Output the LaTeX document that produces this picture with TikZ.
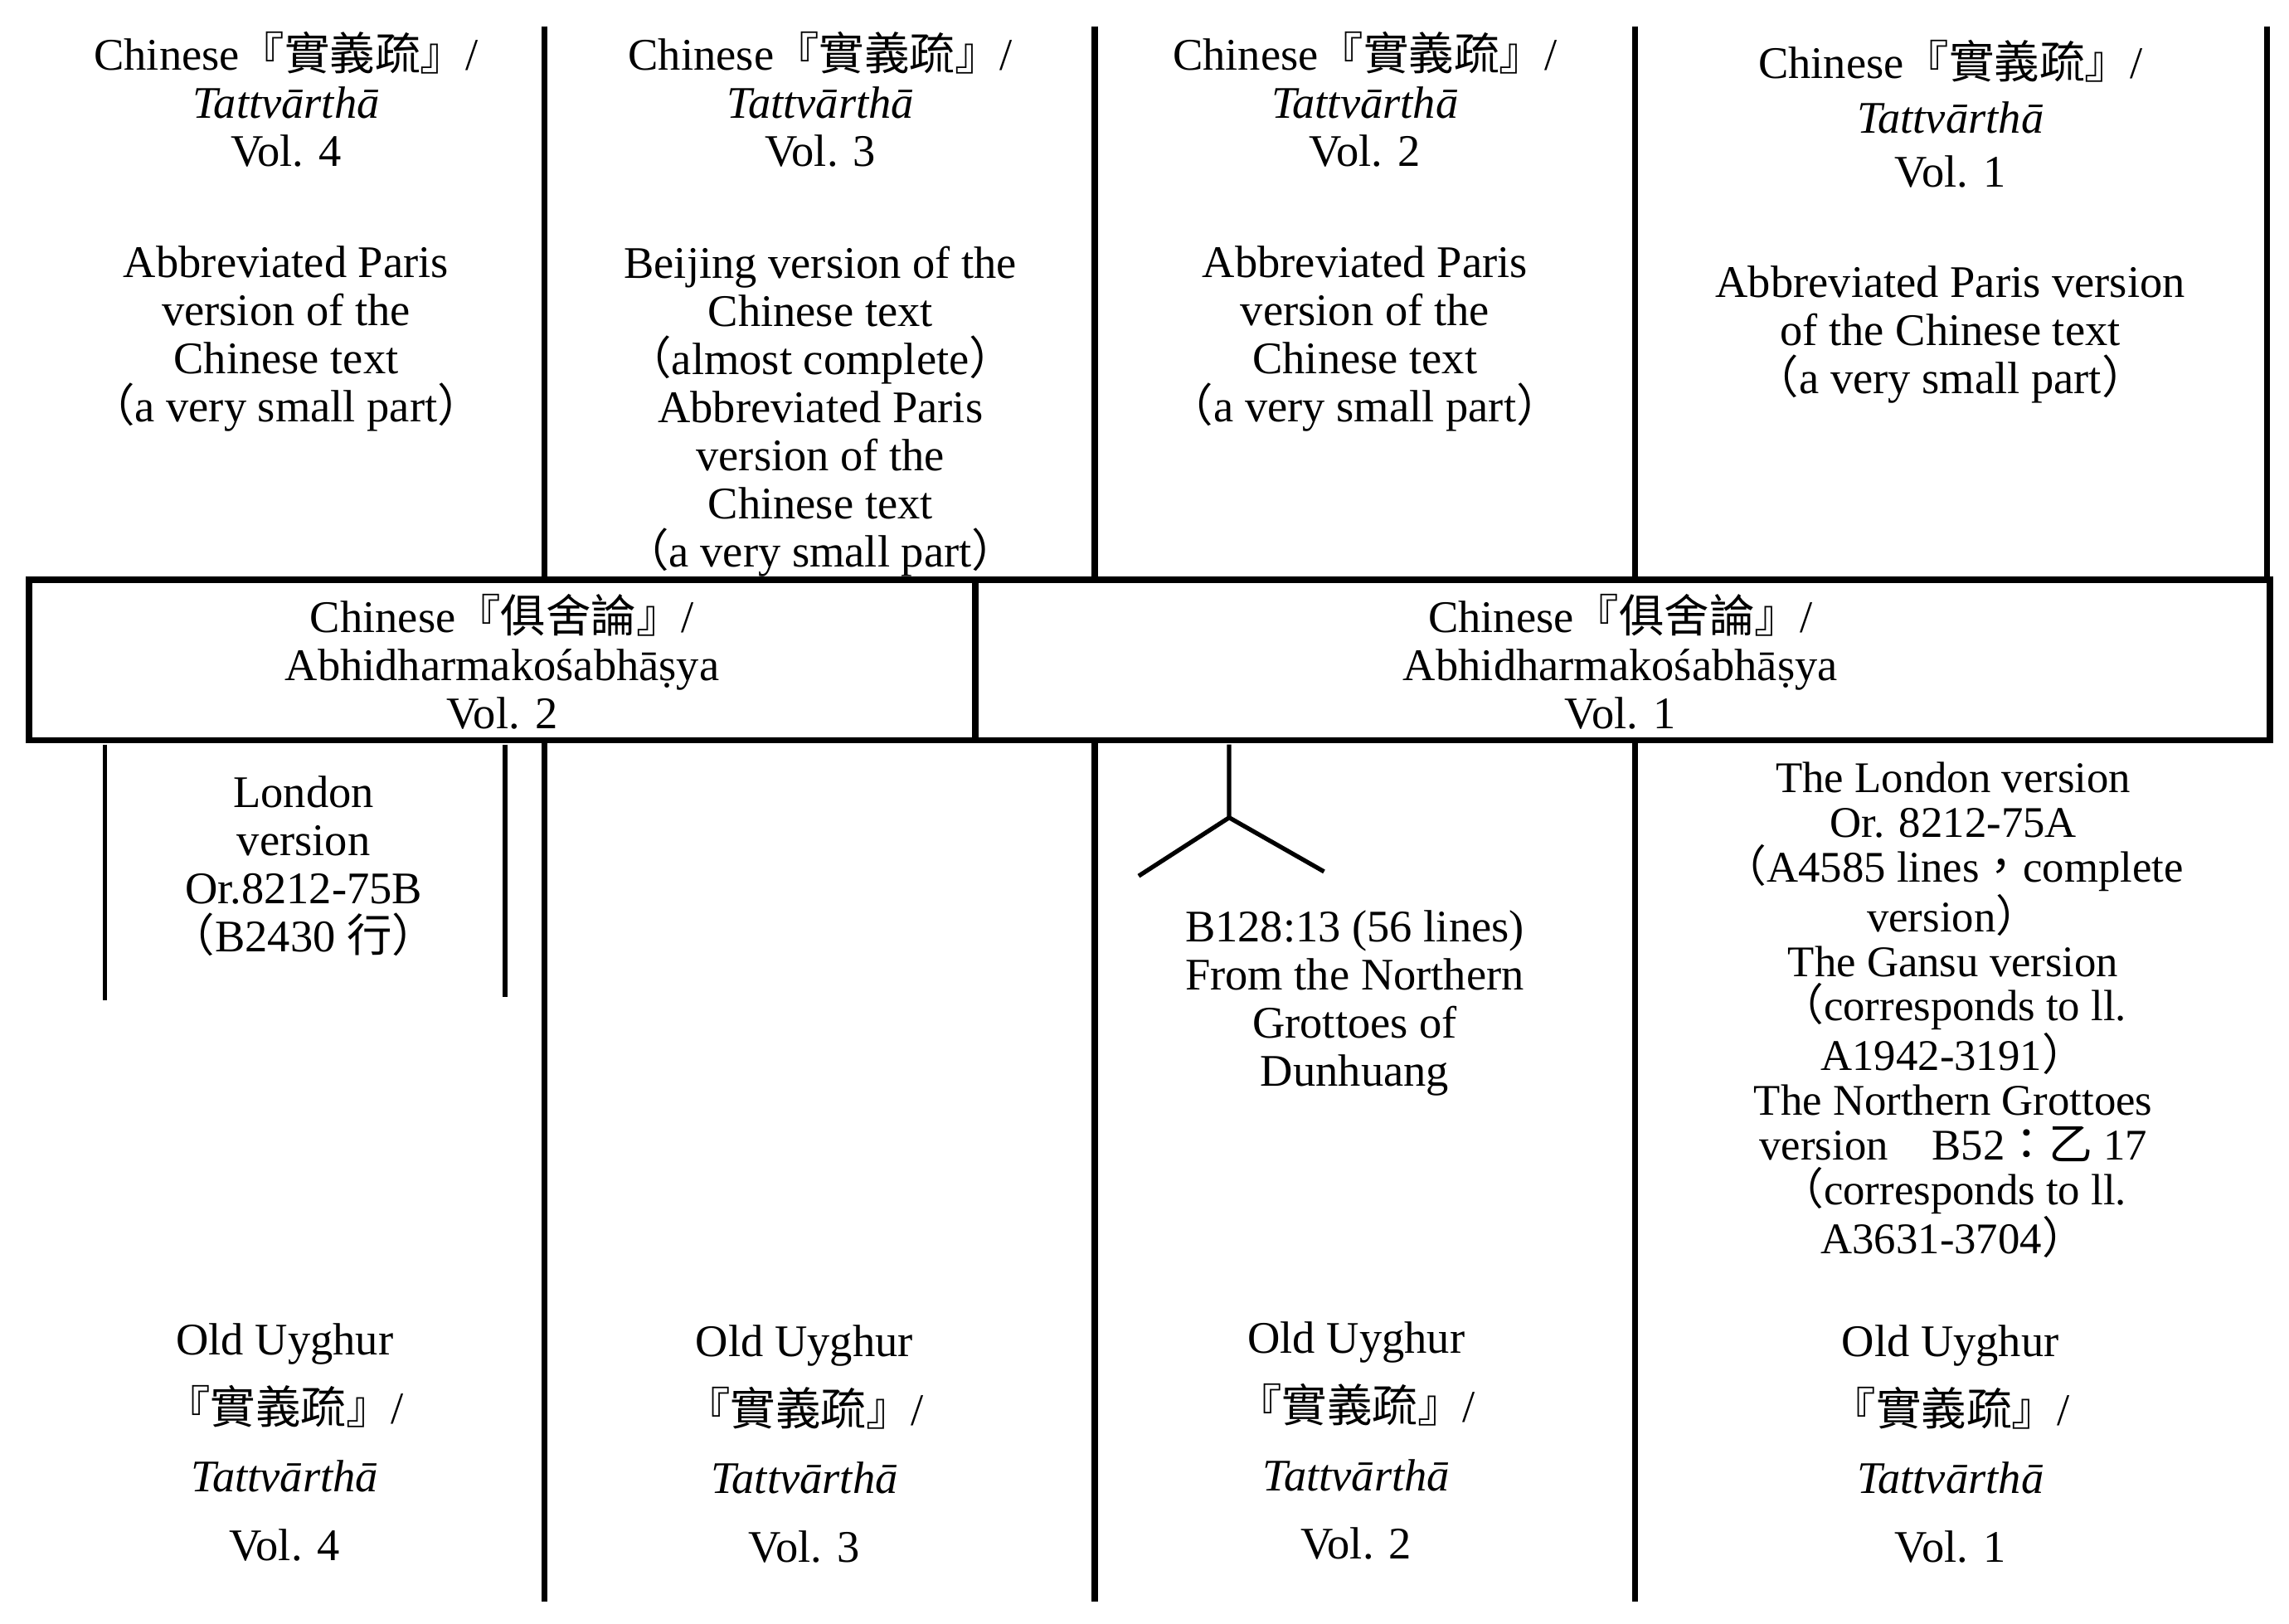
\documentclass[tikz,border=0pt]{standalone}
\usepackage{fontspec}
\setmainfont{Liberation Serif}
\newfontfamily\cjk{Noto Sans CJK TC}
\newcommand\LPar{{\cjk （}}
\newcommand\RPar{{\cjk ）}}
\newcommand\FCol{{\cjk ：}}
\newcommand\FCom{{\cjk ，}}
\begin{document}
\begin{tikzpicture}[x=0.0176cm,y=-0.0176cm,
  ln/.style={line width=2.2pt},
  tx/.style={align=center,font=\fontsize{15.5}{16.5}\selectfont,inner sep=0pt}]
\useasboundingbox (0,0) rectangle (1568,1111.8);
\foreach \x/\n in {373/a,750/b,1120/c,1553/d}{\draw[ln] (\x,18) coordinate(t\n) -- (\x,397) coordinate(u\n);}
\draw[ln] (20,397) rectangle (1555,507);
\draw[ln] (668,397) coordinate(m1) -- (668,507) coordinate(m2);
\foreach \x/\n in {373/a,750/b,1120/c}{\draw[ln] (\x,507) coordinate(v\n) -- (\x,1097) coordinate(w\n);}
\draw[line width=1.5pt] (72,510) coordinate(l1) -- (72,685) coordinate(l2);
\draw[line width=1.5pt] (346,510) coordinate(l3) -- (346,683) coordinate(l4);
\coordinate (tr0) at (842,510); \coordinate (tr1) at (842,560);
\coordinate (tr2) at (780,600); \coordinate (tr3) at (907,597);
\draw[line width=1.5pt] (tr0) -- (tr1) -- (tr2) (tr1) -- (tr3);
\node[tx] (h4) at (196,68) {Chinese{\cjk『實義疏』}/\\\textit{Tattvārthā}\\Vol. 4};
\node[tx] (h3) at (562,68) {Chinese{\cjk『實義疏』}/\\\textit{Tattvārthā}\\Vol. 3};
\node[tx] (h2) at (935,68) {Chinese{\cjk『實義疏』}/\\\textit{Tattvārthā}\\Vol. 2};
\node[tx,font=\fontsize{15.5}{18.5}\selectfont] (h1) at (1336,78) {Chinese{\cjk『實義疏』}/\\\textit{Tattvārthā}\\Vol. 1};
\node[tx] (p4) at (196,232) {Abbreviated Paris\\version of the\\Chinese text\\\LPar a very small part\RPar};
\node[tx] (p3) at (562,282) {Beijing version of the\\Chinese text\\\LPar almost complete\RPar\\Abbreviated Paris\\version of the\\Chinese text\\\LPar a very small part\RPar};
\node[tx] (p2) at (935,232) {Abbreviated Paris\\version of the\\Chinese text\\\LPar a very small part\RPar};
\node[tx] (p1) at (1336,229) {Abbreviated Paris version\\of the Chinese text\\\LPar a very small part\RPar};
\node[tx] (k2) at (344,453) {Chinese{\cjk『俱舍論』}/\\Abhidharmakośabhāṣya\\Vol. 2};
\node[tx] (k1) at (1110,453) {Chinese{\cjk『俱舍論』}/\\Abhidharmakośabhāṣya\\Vol. 1};
\node[tx] (lon) at (208,593) {London\\version\\Or.8212-75B\\\LPar B2430 {\cjk 行}\RPar};
\node[tx] (b128) at (928,687) {B128:13 (56 lines)\\From the Northern\\Grottoes of\\Dunhuang};
\node[tx,font=\fontsize{15}{15.3}\selectfont] (lv) at (1338,692) {The London version\\Or. 8212-75A\\\LPar A4585 lines\FCom complete\\version\RPar\\The Gansu version\\\LPar corresponds to ll.\\A1942-3191\RPar\\The Northern Grottoes\\version\quad B52\FCol{\cjk 乙} 17\\\LPar corresponds to ll.\\A3631-3704\RPar};
\node[tx,font=\fontsize{15.5}{23.5}\selectfont] (o4) at (195,988) {Old Uyghur\\{\cjk『實義疏』}/\\\textit{Tattvārthā}\\Vol. 4};
\node[tx,font=\fontsize{15.5}{23.5}\selectfont] (o3) at (551,989) {Old Uyghur\\{\cjk『實義疏』}/\\\textit{Tattvārthā}\\Vol. 3};
\node[tx,font=\fontsize{15.5}{23.5}\selectfont] (o2) at (929,987) {Old Uyghur\\{\cjk『實義疏』}/\\\textit{Tattvārthā}\\Vol. 2};
\node[tx,font=\fontsize{15.5}{23.5}\selectfont] (o1) at (1336,989) {Old Uyghur\\{\cjk『實義疏』}/\\\textit{Tattvārthā}\\Vol. 1};
\end{tikzpicture}
\end{document}
